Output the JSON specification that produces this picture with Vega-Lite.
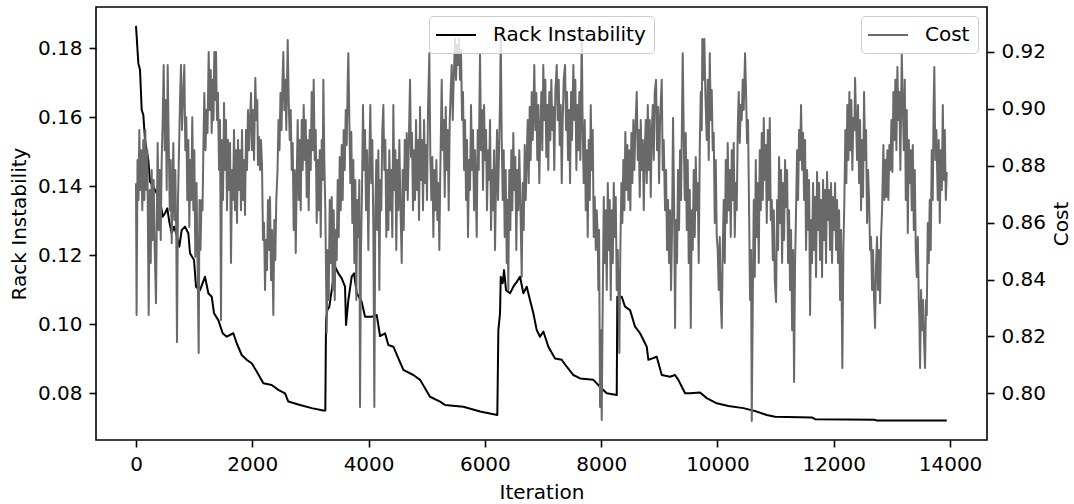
{
"$schema": "https://vega.github.io/schema/vega-lite/v6.json",
"width": 891, "height": 433,
"autosize": {"type": "none"},
"padding": {"left": 96, "top": 7, "right": 87, "bottom": 64},
"background": "white",
"config": {
  "font": "DejaVu Sans",
  "view": {"stroke": "#000000", "strokeWidth": 1.6},
  "axis": {"domain": false, "grid": false, "tickColor": "#000000", "tickSize": 7, "tickWidth": 1.6, "labelFontSize": 20, "labelColor": "#000000", "labelPadding": 7, "titleFontSize": 20, "titleFontWeight": "normal", "titleColor": "#000000", "titlePadding": 8, "labelFont": "DejaVu Sans", "titleFont": "DejaVu Sans"},
  "legend": {"orient": "none", "title": null, "symbolType": "M-2,0H2", "symbolSize": 400, "symbolStrokeWidth": 2, "symbolOffset": 8, "labelOffset": 26, "labelFontSize": 20, "labelFont": "DejaVu Sans", "labelColor": "#000000", "padding": 8, "cornerRadius": 4, "strokeColor": "#cccccc", "fillColor": "rgba(255,255,255,0.8)"}
},
"datasets": {
"ri": [
{"i":0,"v":0.1865},{"i":40,"v":0.1757},{"i":69,"v":0.1737},{"i":98,"v":0.1621},{"i":126,"v":0.1607},{"i":155,"v":0.1534},{"i":212,"v":0.1476},{"i":241,"v":0.1413},{"i":298,"v":0.1399},{"i":356,"v":0.138},{"i":413,"v":0.136},{"i":459,"v":0.1312},{"i":499,"v":0.1322},{"i":538,"v":0.1336},{"i":573,"v":0.1297},{"i":614,"v":0.1264},{"i":654,"v":0.1283},{"i":700,"v":0.1259},{"i":745,"v":0.1225},{"i":786,"v":0.1273},{"i":843,"v":0.1283},{"i":900,"v":0.1264},{"i":929,"v":0.1206},{"i":998,"v":0.1186},{"i":1032,"v":0.1109},{"i":1101,"v":0.1099},{"i":1187,"v":0.1138},{"i":1244,"v":0.109},{"i":1302,"v":0.108},{"i":1342,"v":0.1032},{"i":1416,"v":0.1012},{"i":1491,"v":0.0974},{"i":1560,"v":0.0964},{"i":1674,"v":0.0974},{"i":1732,"v":0.0945},{"i":1818,"v":0.0911},{"i":1904,"v":0.0897},{"i":1990,"v":0.0887},{"i":2076,"v":0.0863},{"i":2190,"v":0.0829},{"i":2334,"v":0.0824},{"i":2448,"v":0.081},{"i":2563,"v":0.08},{"i":2620,"v":0.0776},{"i":2821,"v":0.0766},{"i":3022,"v":0.0757},{"i":3222,"v":0.075},{"i":3256,"v":0.075},{"i":3268,"v":0.1012},{"i":3290,"v":0.1041},{"i":3325,"v":0.1051},{"i":3366,"v":0.1099},{"i":3423,"v":0.1167},{"i":3480,"v":0.1148},{"i":3538,"v":0.1133},{"i":3595,"v":0.1109},{"i":3612,"v":0.0998},{"i":3652,"v":0.107},{"i":3710,"v":0.1138},{"i":3750,"v":0.1148},{"i":3796,"v":0.109},{"i":3882,"v":0.1065},{"i":3939,"v":0.1022},{"i":4054,"v":0.1022},{"i":4140,"v":0.1027},{"i":4197,"v":0.0966},{"i":4283,"v":0.0974},{"i":4340,"v":0.094},{"i":4426,"v":0.0935},{"i":4598,"v":0.0868},{"i":4770,"v":0.0853},{"i":4885,"v":0.0839},{"i":5057,"v":0.079},{"i":5229,"v":0.0776},{"i":5315,"v":0.0766},{"i":5630,"v":0.0761},{"i":5917,"v":0.0747},{"i":6214,"v":0.0737},{"i":6232,"v":0.0983},{"i":6261,"v":0.1032},{"i":6273,"v":0.1138},{"i":6307,"v":0.1119},{"i":6330,"v":0.1157},{"i":6364,"v":0.1099},{"i":6433,"v":0.109},{"i":6490,"v":0.1109},{"i":6548,"v":0.1123},{"i":6605,"v":0.1138},{"i":6662,"v":0.109},{"i":6720,"v":0.1109},{"i":6777,"v":0.107},{"i":6834,"v":0.1032},{"i":6892,"v":0.0983},{"i":6949,"v":0.0964},{"i":7006,"v":0.0979},{"i":7092,"v":0.0935},{"i":7207,"v":0.0901},{"i":7322,"v":0.0897},{"i":7408,"v":0.0877},{"i":7522,"v":0.0853},{"i":7637,"v":0.0843},{"i":7866,"v":0.0839},{"i":8010,"v":0.0814},{"i":8096,"v":0.08},{"i":8268,"v":0.0795},{"i":8278,"v":0.108},{"i":8354,"v":0.108},{"i":8411,"v":0.1051},{"i":8497,"v":0.1041},{"i":8583,"v":0.0993},{"i":8669,"v":0.0974},{"i":8784,"v":0.0935},{"i":8812,"v":0.0897},{"i":8956,"v":0.0906},{"i":9042,"v":0.0853},{"i":9185,"v":0.0848},{"i":9271,"v":0.0853},{"i":9328,"v":0.0839},{"i":9443,"v":0.08},{"i":9529,"v":0.08},{"i":9701,"v":0.0802},{"i":9816,"v":0.0786},{"i":9988,"v":0.0771},{"i":10188,"v":0.0763},{"i":10446,"v":0.0757},{"i":10676,"v":0.0747},{"i":10848,"v":0.0737},{"i":10991,"v":0.0732},{"i":11622,"v":0.073},{"i":11679,"v":0.0725},{"i":12711,"v":0.0723},{"i":12740,"v":0.0721},{"i":13944,"v":0.0721}
],
"cost": [
{"i":0,"c":0.8739},{"i":10,"c":0.8275},{"i":26,"c":0.882},{"i":43,"c":0.868},{"i":57,"c":0.8926},{"i":74,"c":0.8715},{"i":91,"c":0.8855},{"i":108,"c":0.8644},{"i":126,"c":0.8891},{"i":143,"c":0.868},{"i":160,"c":0.8926},{"i":177,"c":0.8715},{"i":194,"c":0.8855},{"i":218,"c":0.8275},{"i":236,"c":0.8715},{"i":253,"c":0.8458},{"i":270,"c":0.8785},{"i":287,"c":0.8539},{"i":304,"c":0.875},{"i":322,"c":0.8504},{"i":344,"c":0.8317},{"i":361,"c":0.868},{"i":373,"c":0.888},{"i":390,"c":0.8574},{"i":408,"c":0.8785},{"i":425,"c":0.8539},{"i":442,"c":0.882},{"i":459,"c":0.8961},{"i":476,"c":0.9154},{"i":494,"c":0.8855},{"i":511,"c":0.9031},{"i":528,"c":0.8715},{"i":545,"c":0.9154},{"i":562,"c":0.8891},{"i":580,"c":0.8644},{"i":597,"c":0.882},{"i":614,"c":0.8528},{"i":631,"c":0.875},{"i":642,"c":0.888},{"i":659,"c":0.8609},{"i":676,"c":0.8785},{"i":693,"c":0.8539},{"i":705,"c":0.818},{"i":722,"c":0.868},{"i":740,"c":0.8855},{"i":757,"c":0.9031},{"i":774,"c":0.9154},{"i":791,"c":0.8926},{"i":808,"c":0.9031},{"i":831,"c":0.9154},{"i":848,"c":0.8855},{"i":865,"c":0.8971},{"i":882,"c":0.868},{"i":900,"c":0.8891},{"i":917,"c":0.8585},{"i":934,"c":0.882},{"i":951,"c":0.868},{"i":968,"c":0.8971},{"i":986,"c":0.8644},{"i":1003,"c":0.8855},{"i":1020,"c":0.8479},
{"i":1041,"c":0.8739},{"i":1058,"c":0.8469},{"i":1078,"c":0.8142},{"i":1092,"c":0.868},{"i":1109,"c":0.8504},{"i":1127,"c":0.868},{"i":1144,"c":0.8644},{"i":1161,"c":0.8891},{"i":1175,"c":0.9056},{"i":1195,"c":0.8855},{"i":1213,"c":0.8996},{"i":1230,"c":0.8915},{"i":1250,"c":0.92},{"i":1268,"c":0.8996},{"i":1285,"c":0.9137},{"i":1302,"c":0.8915},{"i":1319,"c":0.9102},{"i":1333,"c":0.8961},{"i":1347,"c":0.92},{"i":1362,"c":0.9031},{"i":1376,"c":0.92},{"i":1393,"c":0.8961},{"i":1410,"c":0.9056},{"i":1428,"c":0.8785},{"i":1445,"c":0.8961},{"i":1462,"c":0.8258},{"i":1479,"c":0.8891},{"i":1496,"c":0.868},{"i":1514,"c":0.9021},{"i":1531,"c":0.8785},{"i":1548,"c":0.8961},{"i":1565,"c":0.8644},{"i":1582,"c":0.8891},{"i":1600,"c":0.8715},{"i":1617,"c":0.888},{"i":1634,"c":0.8458},{"i":1651,"c":0.8785},{"i":1668,"c":0.868},{"i":1686,"c":0.8926},{"i":1703,"c":0.8644},{"i":1720,"c":0.8855},{"i":1737,"c":0.8599},{"i":1754,"c":0.8891},{"i":1772,"c":0.8715},{"i":1789,"c":0.8855},{"i":1806,"c":0.8644},{"i":1823,"c":0.8926},{"i":1840,"c":0.868},{"i":1858,"c":0.882},{"i":1875,"c":0.8627},{"i":1892,"c":0.8926},{"i":1909,"c":0.8785},{"i":1926,"c":0.8996},{"i":1944,"c":0.8855},{"i":1961,"c":0.8961},{"i":1978,"c":0.9056},{"i":1995,"c":0.8855},{"i":2012,"c":0.8996},{"i":2030,"c":0.882},{"i":2052,"c":0.9109},{"i":2069,"c":0.8961},{"i":2086,"c":0.9031},{"i":2098,"c":0.8803},{"i":2116,"c":0.8901},{"i":2133,"c":0.8785},{"i":2150,"c":0.8891},{"i":2167,"c":0.8803},{"i":2184,"c":0.8539},{"i":2202,"c":0.8599},{"i":2219,"c":0.8363},{"i":2236,"c":0.8539},{"i":2253,"c":0.8433},{"i":2270,"c":0.868},{"i":2288,"c":0.8504},{"i":2305,"c":0.869},{"i":2322,"c":0.8398},{"i":2339,"c":0.8574},{"i":2362,"c":0.8275},{"i":2379,"c":0.8609},{"i":2396,"c":0.8469},{"i":2413,"c":0.868},{"i":2434,"c":0.8785},{"i":2451,"c":0.8961},{"i":2468,"c":0.8855},{"i":2485,"c":0.9056},{"i":2503,"c":0.8926},{"i":2520,"c":0.9102},{"i":2534,"c":0.92},{"i":2551,"c":0.8996},{"i":2568,"c":0.9102},{"i":2585,"c":0.8926},{"i":2609,"c":0.9242},{"i":2626,"c":0.9031},{"i":2644,"c":0.8891},{"i":2661,"c":0.8996},{"i":2678,"c":0.8785},{"i":2695,"c":0.888},{"i":2712,"c":0.8574},{"i":2730,"c":0.8785},{"i":2747,"c":0.8493},
{"i":2764,"c":0.875},{"i":2781,"c":0.8961},{"i":2798,"c":0.868},{"i":2816,"c":0.8891},{"i":2833,"c":0.8644},{"i":2850,"c":0.8961},{"i":2867,"c":0.8785},{"i":2884,"c":0.9014},{"i":2902,"c":0.882},{"i":2919,"c":0.8961},{"i":2936,"c":0.869},{"i":2953,"c":0.8891},{"i":2970,"c":0.8644},{"i":2988,"c":0.8926},{"i":3005,"c":0.8785},{"i":3022,"c":0.9059},{"i":3039,"c":0.8855},{"i":3056,"c":0.9102},{"i":3074,"c":0.882},{"i":3091,"c":0.8926},{"i":3108,"c":0.8599},{"i":3125,"c":0.882},{"i":3142,"c":0.8644},{"i":3160,"c":0.8855},{"i":3177,"c":0.855},{"i":3194,"c":0.8891},{"i":3211,"c":0.875},{"i":3222,"c":0.9102},{"i":3239,"c":0.882},{"i":3256,"c":0.8644},{"i":3280,"c":0.8212},{"i":3297,"c":0.8504},{"i":3314,"c":0.8328},{"i":3332,"c":0.868},{"i":3349,"c":0.8458},{"i":3366,"c":0.869},{"i":3383,"c":0.8363},{"i":3400,"c":0.8644},{"i":3418,"c":0.8328},{"i":3435,"c":0.8574},{"i":3452,"c":0.8469},{"i":3469,"c":0.875},{"i":3486,"c":0.855},{"i":3504,"c":0.8831},{"i":3521,"c":0.8644},{"i":3538,"c":0.8873},{"i":3555,"c":0.868},{"i":3572,"c":0.8926},{"i":3590,"c":0.8785},{"i":3607,"c":0.8996},{"i":3624,"c":0.8873},{"i":3641,"c":0.9102},{"i":3652,"c":0.9196},{"i":3669,"c":0.8961},{"i":3686,"c":0.8739},{"i":3703,"c":0.8919},{"i":3720,"c":0.8599},{"i":3738,"c":0.882},{"i":3755,"c":0.8458},{"i":3772,"c":0.875},{"i":3789,"c":0.8328},{"i":3806,"c":0.868},{"i":3824,"c":0.855},{"i":3841,"c":0.875},{"i":3853,"c":0.7952},{"i":3870,"c":0.8504},{"i":3887,"c":0.8715},{"i":3904,"c":0.9014},{"i":3922,"c":0.8785},{"i":3939,"c":0.8926},{"i":3956,"c":0.8644},{"i":3973,"c":0.8855},{"i":3996,"c":0.8504},{"i":4013,"c":0.882},{"i":4030,"c":0.9014},{"i":4047,"c":0.8739},{"i":4064,"c":0.8891},{"i":4082,"c":0.8574},{"i":4099,"c":0.7952},{"i":4116,"c":0.8644},{"i":4133,"c":0.882},{"i":4150,"c":0.8574},{"i":4168,"c":0.8855},{"i":4185,"c":0.8363},{"i":4202,"c":0.875},{"i":4219,"c":0.8644},{"i":4236,"c":0.8926},{"i":4254,"c":0.9014},{"i":4271,"c":0.8785},{"i":4288,"c":0.8891},{"i":4305,"c":0.855},{"i":4322,"c":0.8785},
{"i":4340,"c":0.8574},{"i":4357,"c":0.8855},{"i":4374,"c":0.8644},{"i":4391,"c":0.8785},{"i":4408,"c":0.855},{"i":4426,"c":0.9014},{"i":4443,"c":0.8715},{"i":4460,"c":0.8855},{"i":4477,"c":0.8504},{"i":4494,"c":0.882},{"i":4512,"c":0.8644},{"i":4529,"c":0.8891},{"i":4546,"c":0.868},{"i":4570,"c":0.8458},{"i":4587,"c":0.8785},{"i":4604,"c":0.8574},{"i":4622,"c":0.8891},{"i":4639,"c":0.8715},{"i":4656,"c":0.8915},{"i":4673,"c":0.868},{"i":4690,"c":0.8855},{"i":4713,"c":0.9102},{"i":4730,"c":0.8831},{"i":4747,"c":0.8915},{"i":4764,"c":0.8644},{"i":4782,"c":0.8855},{"i":4799,"c":0.868},{"i":4816,"c":0.8961},{"i":4833,"c":0.8715},{"i":4850,"c":0.8891},{"i":4868,"c":0.8609},{"i":4885,"c":0.9007},{"i":4902,"c":0.875},{"i":4919,"c":0.8891},{"i":4936,"c":0.8644},{"i":4954,"c":0.8961},{"i":4971,"c":0.8739},{"i":4988,"c":0.8873},{"i":5005,"c":0.868},{"i":5022,"c":0.8996},{"i":5045,"c":0.9196},{"i":5062,"c":0.8831},{"i":5080,"c":0.868},{"i":5097,"c":0.8831},{"i":5114,"c":0.855},{"i":5131,"c":0.8785},{"i":5148,"c":0.8644},{"i":5166,"c":0.882},{"i":5183,"c":0.8609},{"i":5200,"c":0.8739},{"i":5217,"c":0.8504},{"i":5234,"c":0.8785},{"i":5258,"c":0.9102},{"i":5275,"c":0.8855},{"i":5292,"c":0.8961},{"i":5310,"c":0.869},{"i":5327,"c":0.9007},{"i":5344,"c":0.8785},{"i":5361,"c":0.8926},{"i":5378,"c":0.8644},{"i":5396,"c":0.8961},{"i":5413,"c":0.9066},{"i":5430,"c":0.9154},{"i":5447,"c":0.8961},{"i":5464,"c":0.9102},{"i":5487,"c":0.9246},{"i":5504,"c":0.9102},{"i":5521,"c":0.9225},{"i":5538,"c":0.9154},{"i":5556,"c":0.9246},{"i":5573,"c":0.9102},{"i":5590,"c":0.9207},{"i":5607,"c":0.8961},{"i":5624,"c":0.9059},{"i":5642,"c":0.8785},{"i":5659,"c":0.8961},{"i":5676,"c":0.868},{"i":5693,"c":0.8891},{"i":5710,"c":0.855},{"i":5728,"c":0.882},{"i":5745,"c":0.8715},{"i":5762,"c":0.9014},{"i":5779,"c":0.8785},{"i":5796,"c":0.8926},{"i":5814,"c":0.8644},{"i":5831,"c":0.8855},{"i":5860,"c":0.855},{"i":5877,"c":0.8926},{"i":5894,"c":0.8785},{"i":5917,"c":0.9196},{"i":5934,"c":0.8855},{"i":5951,"c":0.8996},{"i":5968,"c":0.8715},{"i":5986,"c":0.9014},{"i":6003,"c":0.882},{"i":6020,"c":0.8926},{"i":6037,"c":0.8644},{"i":6054,"c":0.8855},{"i":6072,"c":0.875},{"i":6089,"c":0.8961},{"i":6106,"c":0.8574},{"i":6123,"c":0.8785},{"i":6140,"c":0.8644},{"i":6158,"c":0.8855},{"i":6175,"c":0.8504},{"i":6192,"c":0.875},{"i":6209,"c":0.8926},{"i":6226,"c":0.868},{"i":6244,"c":0.8855},{"i":6261,"c":0.9031},{"i":6273,"c":0.9267},{"i":6290,"c":0.8891},{"i":6307,"c":0.868},{"i":6324,"c":0.8855},{"i":6341,"c":0.855},{"i":6358,"c":0.8785},{"i":6376,"c":0.8458},{"i":6390,"c":0.868},{"i":6403,"c":0.8363},{"i":6420,"c":0.8785},{"i":6438,"c":0.8574},{"i":6455,"c":0.8855},{"i":6472,"c":0.8644},{"i":6489,"c":0.8915},{"i":6506,"c":0.8715},{"i":6524,"c":0.8831},{"i":6541,"c":0.8504},{"i":6558,"c":0.8785},{"i":6575,"c":0.8644},{"i":6592,"c":0.8855},{"i":6610,"c":0.868},{"i":6634,"c":0.8409},{"i":6651,"c":0.8739},{"i":6668,"c":0.8574},{"i":6685,"c":0.8873},{"i":6703,"c":0.868},{"i":6720,"c":0.8831},{"i":6737,"c":0.8961},{"i":6754,"c":0.8739},{"i":6771,"c":0.9007},{"i":6788,"c":0.882},{"i":6806,"c":0.9059},{"i":6823,"c":0.8891},{"i":6837,"c":0.8996},{"i":6850,"c":0.9154},{"i":6868,"c":0.8926},{"i":6885,"c":0.9056},{"i":6902,"c":0.882},{"i":6919,"c":0.9014},{"i":6936,"c":0.8739},{"i":6954,"c":0.8926},{"i":6971,"c":0.9059},{"i":6988,"c":0.8855},{"i":7005,"c":0.9154},{"i":7022,"c":0.8961},{"i":7040,"c":0.9102},{"i":7057,"c":0.8831},{"i":7074,"c":0.9014},{"i":7091,"c":0.8785},{"i":7108,"c":0.9059},{"i":7126,"c":0.8891},{"i":7143,"c":0.9102},{"i":7160,"c":0.8926},{"i":7177,"c":0.9007},{"i":7194,"c":0.8785},{"i":7212,"c":0.9059},{"i":7236,"c":0.9154},{"i":7253,"c":0.8961},{"i":7270,"c":0.9102},{"i":7288,"c":0.8873},{"i":7305,"c":0.9014},{"i":7322,"c":0.8739},{"i":7339,"c":0.8961},{"i":7356,"c":0.9102},{"i":7379,"c":0.9154},{"i":7396,"c":0.8926},{"i":7413,"c":0.9059},{"i":7430,"c":0.882},{"i":7448,"c":0.8996},{"i":7465,"c":0.8739},{"i":7482,"c":0.9059},{"i":7499,"c":0.8891},{"i":7522,"c":0.9154},{"i":7539,"c":0.8961},{"i":7556,"c":0.9102},{"i":7574,"c":0.8785},{"i":7591,"c":0.9014},{"i":7608,"c":0.8855},{"i":7625,"c":0.9059},{"i":7642,"c":0.882},{"i":7666,"c":0.9267},{"i":7683,"c":0.8915},{"i":7700,"c":0.8739},{"i":7718,"c":0.8961},{"i":7735,"c":0.8644},{"i":7752,"c":0.8855},{"i":7769,"c":0.855},{"i":7786,"c":0.8891},{"i":7804,"c":0.868},{"i":7821,"c":0.9014},{"i":7838,"c":0.8785},{"i":7855,"c":0.8926},{"i":7872,"c":0.855},{"i":7890,"c":0.869},{"i":7907,"c":0.8504},{"i":7924,"c":0.8644},{"i":7941,"c":0.855},{"i":7952,"c":0.8363},{"i":7964,"c":0.8574},{"i":7981,"c":0.7952},{"i":7995,"c":0.8222},{"i":8010,"c":0.7906},{"i":8027,"c":0.8328},{"i":8045,"c":0.869},{"i":8062,"c":0.8458},{"i":8079,"c":0.8644},{"i":8096,"c":0.8363},{"i":8114,"c":0.8739},{"i":8131,"c":0.8504},{"i":8148,"c":0.868},{"i":8165,"c":0.8328},{"i":8182,"c":0.8644},{"i":8200,"c":0.8458},{"i":8217,"c":0.8739},{"i":8234,"c":0.855},{"i":8251,"c":0.869},{"i":8268,"c":0.8363},{"i":8286,"c":0.8504},{"i":8299,"c":0.8328},{"i":8313,"c":0.8142},{"i":8330,"c":0.8504},{"i":8348,"c":0.8739},{"i":8365,"c":0.8599},{"i":8382,"c":0.882},{"i":8399,"c":0.8644},{"i":8416,"c":0.8919},{"i":8434,"c":0.8715},{"i":8451,"c":0.8873},{"i":8468,"c":0.868},{"i":8485,"c":0.8855},{"i":8502,"c":0.8644},{"i":8520,"c":0.8915},{"i":8537,"c":0.8739},{"i":8554,"c":0.8961},{"i":8571,"c":0.8785},{"i":8588,"c":0.8926},{"i":8612,"c":0.9059},{"i":8630,"c":0.882},{"i":8647,"c":0.8926},{"i":8664,"c":0.869},{"i":8681,"c":0.8961},{"i":8698,"c":0.8785},{"i":8716,"c":0.8891},{"i":8733,"c":0.8644},{"i":8750,"c":0.8855},{"i":8767,"c":0.8961},{"i":8784,"c":0.8739},{"i":8802,"c":0.9014},{"i":8819,"c":0.8785},{"i":8836,"c":0.8961},{"i":8853,"c":0.869},{"i":8870,"c":0.8915},{"i":8888,"c":0.9014},{"i":8905,"c":0.882},{"i":8922,"c":0.9059},{"i":8944,"c":0.9102},{"i":8961,"c":0.8855},{"i":8978,"c":0.9007},{"i":8996,"c":0.8739},{"i":9013,"c":0.8961},{"i":9042,"c":0.9102},{"i":9059,"c":0.8785},{"i":9076,"c":0.8891},{"i":9099,"c":0.8644},{"i":9116,"c":0.8785},{"i":9133,"c":0.8504},{"i":9150,"c":0.868},{"i":9168,"c":0.8458},{"i":9185,"c":0.8644},{"i":9202,"c":0.8363},{"i":9219,"c":0.8574},{"i":9236,"c":0.8968},{"i":9254,"c":0.868},{"i":9271,"c":0.823},{"i":9288,"c":0.8609},{"i":9305,"c":0.8458},
{"i":9322,"c":0.8785},{"i":9340,"c":0.8574},{"i":9357,"c":0.8855},{"i":9374,"c":0.868},{"i":9403,"c":0.9196},{"i":9420,"c":0.8915},{"i":9438,"c":0.868},{"i":9455,"c":0.8915},{"i":9472,"c":0.8574},{"i":9489,"c":0.882},{"i":9506,"c":0.8458},{"i":9524,"c":0.8715},{"i":9541,"c":0.823},{"i":9558,"c":0.8644},{"i":9575,"c":0.8504},{"i":9592,"c":0.8785},{"i":9610,"c":0.855},{"i":9627,"c":0.8831},{"i":9644,"c":0.8644},{"i":9661,"c":0.8739},{"i":9678,"c":0.8458},{"i":9696,"c":0.8855},{"i":9713,"c":0.9059},{"i":9730,"c":0.8926},{"i":9740,"c":0.9246},{"i":9758,"c":0.9102},{"i":9775,"c":0.9246},{"i":9792,"c":0.9056},{"i":9816,"c":0.8891},{"i":9833,"c":0.9102},{"i":9850,"c":0.882},{"i":9868,"c":0.9196},{"i":9885,"c":0.8961},{"i":9902,"c":0.9066},{"i":9919,"c":0.8855},{"i":9936,"c":0.8915},{"i":9954,"c":0.8599},{"i":9971,"c":0.882},{"i":9988,"c":0.855},{"i":10005,"c":0.8504},{"i":10022,"c":0.8363},{"i":10040,"c":0.855},{"i":10057,"c":0.8328},{"i":10074,"c":0.823},{"i":10091,"c":0.8504},{"i":10108,"c":0.868},{"i":10126,"c":0.8458},{"i":10143,"c":0.882},{"i":10160,"c":0.8599},{"i":10177,"c":0.888},{"i":10194,"c":0.8644},{"i":10212,"c":0.8785},{"i":10229,"c":0.855},{"i":10246,"c":0.8855},{"i":10263,"c":0.868},{"i":10280,"c":0.888},{"i":10298,"c":0.855},{"i":10315,"c":0.8739},{"i":10332,"c":0.8644},{"i":10349,"c":0.8926},{"i":10366,"c":0.9059},{"i":10384,"c":0.888},{"i":10401,"c":0.9014},{"i":10418,"c":0.8961},{"i":10435,"c":0.9102},{"i":10452,"c":0.8996},{"i":10475,"c":0.9196},{"i":10492,"c":0.9059},{"i":10509,"c":0.888},{"i":10526,"c":0.8961},{"i":10544,"c":0.8644},{"i":10561,"c":0.8328},{"i":10578,"c":0.8504},{"i":10590,"c":0.7903},{"i":10608,"c":0.8328},{"i":10625,"c":0.868},{"i":10642,"c":0.8409},{"i":10659,"c":0.882},{"i":10676,"c":0.855},{"i":10694,"c":0.8739},{"i":10711,"c":0.8458},{"i":10728,"c":0.8855},{"i":10745,"c":0.8644},{"i":10762,"c":0.8915},{"i":10780,"c":0.868},{"i":10797,"c":0.8968},{"i":10814,"c":0.875},{"i":10831,"c":0.8873},{"i":10848,"c":0.8599},{"i":10866,"c":0.8926},{"i":10883,"c":0.868},{"i":10900,"c":0.8968},{"i":10917,"c":0.8609},{"i":10934,"c":0.868},{"i":10952,"c":0.8469},{"i":10969,"c":0.8644},{"i":10986,"c":0.8398},{"i":11008,"c":0.8321},{"i":11026,"c":0.868},{"i":11043,"c":0.8504},{"i":11060,"c":0.8831},{"i":11077,"c":0.8599},{"i":11094,"c":0.8785},{"i":11112,"c":0.8458},{"i":11129,"c":0.8739},{"i":11146,"c":0.8539},{"i":11163,"c":0.882},{"i":11180,"c":0.8655},{"i":11198,"c":0.8785},{"i":11215,"c":0.8458},{"i":11232,"c":0.8644},{"i":11249,"c":0.8363},{"i":11266,"c":0.8574},{"i":11284,"c":0.8222},{"i":11301,"c":0.8504},{"i":11318,"c":0.804},{"i":11335,"c":0.8458},{"i":11352,"c":0.8644},{"i":11370,"c":0.8855},{"i":11387,"c":0.868},{"i":11404,"c":0.8926},{"i":11421,"c":0.882},{"i":11438,"c":0.9014},{"i":11456,"c":0.8785},{"i":11473,"c":0.8915},{"i":11490,"c":0.868},{"i":11507,"c":0.8891},{"i":11524,"c":0.8504},{"i":11542,"c":0.8785},{"i":11559,"c":0.8574},{"i":11576,"c":0.875},{"i":11593,"c":0.8275},{"i":11610,"c":0.8609},{"i":11627,"c":0.8458},{"i":11644,"c":0.8739},{"i":11662,"c":0.8504},{"i":11679,"c":0.869},{"i":11696,"c":0.8409},{"i":11713,"c":0.8778},{"i":11730,"c":0.8574},{"i":11748,"c":0.8739},{"i":11765,"c":0.8469},{"i":11782,"c":0.868},{"i":11799,"c":0.8409},{"i":11816,"c":0.875},{"i":11834,"c":0.8539},{"i":11851,"c":0.8715},{"i":11868,"c":0.8458},{"i":11885,"c":0.8778},{"i":11902,"c":0.8609},{"i":11920,"c":0.8715},{"i":11937,"c":0.8504},{"i":11954,"c":0.8739},{"i":11971,"c":0.8458},{"i":11988,"c":0.869},{"i":12006,"c":0.8574},{"i":12023,"c":0.8739},{"i":12040,"c":0.8504},{"i":12057,"c":0.868},{"i":12074,"c":0.8458},{"i":12092,"c":0.8644},{"i":12109,"c":0.8328},{"i":12126,"c":0.8574},{"i":12148,"c":0.8089},{"i":12166,"c":0.8504},{"i":12183,"c":0.868},{"i":12200,"c":0.8926},{"i":12217,"c":0.8739},{"i":12234,"c":0.9014},{"i":12252,"c":0.882},{"i":12269,"c":0.9059},{"i":12286,"c":0.8855},{"i":12303,"c":0.9031},{"i":12320,"c":0.8785},{"i":12338,"c":0.8968},{"i":12355,"c":0.8926},{"i":12367,"c":0.9109},{"i":12384,"c":0.8961},{"i":12401,"c":0.882},{"i":12418,"c":0.9014},{"i":12436,"c":0.8739},{"i":12453,"c":0.8961},{"i":12470,"c":0.8644},{"i":12487,"c":0.8891},{"i":12504,"c":0.869},{"i":12522,"c":0.9059},{"i":12539,"c":0.882},{"i":12556,"c":0.8926},{"i":12573,"c":0.8599},{"i":12590,"c":0.8785},{"i":12608,"c":0.868},{"i":12625,"c":0.8504},{"i":12642,"c":0.855},{"i":12659,"c":0.8363},{"i":12676,"c":0.8504},{"i":12694,"c":0.8328},{"i":12711,"c":0.823},{"i":12728,"c":0.8458},{"i":12745,"c":0.855},{"i":12762,"c":0.8363},{"i":12780,"c":0.8504},{"i":12797,"c":0.8317},{"i":12814,"c":0.855},{"i":12831,"c":0.8644},{"i":12854,"c":0.8873},{"i":12871,"c":0.868},{"i":12888,"c":0.882},{"i":12906,"c":0.869},{"i":12923,"c":0.8855},{"i":12940,"c":0.868},{"i":12957,"c":0.8873},{"i":12974,"c":0.8785},{"i":12992,"c":0.8961},{"i":13009,"c":0.8778},{"i":13026,"c":0.9059},{"i":13043,"c":0.8891},{"i":13060,"c":0.9102},{"i":13078,"c":0.8855},{"i":13095,"c":0.9147},{"i":13112,"c":0.8961},{"i":13129,"c":0.9059},{"i":13146,"c":0.8785},{"i":13170,"c":0.9196},{"i":13188,"c":0.9014},{"i":13205,"c":0.8855},{"i":13222,"c":0.9102},{"i":13239,"c":0.868},{"i":13256,"c":0.8996},{"i":13274,"c":0.8564},{"i":13291,"c":0.8891},{"i":13308,"c":0.8739},{"i":13325,"c":0.8855},{"i":13342,"c":0.8644},{"i":13360,"c":0.8873},{"i":13377,"c":0.8574},{"i":13394,"c":0.8785},{"i":13411,"c":0.8504},{"i":13428,"c":0.8409},{"i":13446,"c":0.855},{"i":13463,"c":0.8328},{"i":13473,"c":0.8258},{"i":13485,"c":0.8089},{"i":13502,"c":0.8363},{"i":13518,"c":0.8222},{"i":13536,"c":0.8328},{"i":13553,"c":0.8187},{"i":13570,"c":0.8089},{"i":13588,"c":0.8328},{"i":13600,"c":0.8275},{"i":13617,"c":0.8599},{"i":13634,"c":0.8458},{"i":13651,"c":0.868},{"i":13668,"c":0.8504},{"i":13686,"c":0.8855},{"i":13703,"c":0.868},{"i":13717,"c":0.8996},{"i":13730,"c":0.9147},{"i":13748,"c":0.882},{"i":13765,"c":0.8926},{"i":13789,"c":0.868},{"i":13806,"c":0.8891},{"i":13824,"c":0.8599},{"i":13841,"c":0.8855},{"i":13858,"c":0.8715},{"i":13876,"c":0.9014},{"i":13893,"c":0.875},{"i":13910,"c":0.8926},{"i":13928,"c":0.868},{"i":13944,"c":0.8778}
]
},
"layer": [
  {
    "data": {"name": "ri"},
    "mark": {"type": "line", "color": "#000000", "strokeWidth": 2, "strokeJoin": "round"},
    "encoding": {
      "x": {"field": "i", "type": "quantitative", "title": "Iteration", "scale": {"domain": [-688, 14636], "nice": false, "zero": false}, "axis": {"values": [0, 2000, 4000, 6000, 8000, 10000, 12000, 14000], "format": "d"}},
      "y": {"field": "v", "type": "quantitative", "title": "Rack Instability", "scale": {"domain": [0.06646, 0.19197], "nice": false, "zero": false}, "axis": {"values": [0.08, 0.10, 0.12, 0.14, 0.16, 0.18], "format": ".2f"}},
      "color": {"datum": "Rack Instability", "scale": {"range": ["#000000"]}, "legend": {"legendX": 333, "legendY": 9}}
    }
  },
  {
    "data": {"name": "cost"},
    "mark": {"type": "line", "strokeWidth": 2, "strokeJoin": "round"},
    "encoding": {
      "x": {"field": "i", "type": "quantitative"},
      "y": {"field": "c", "type": "quantitative", "title": "Cost", "scale": {"domain": [0.78359, 0.93582], "nice": false, "zero": false}, "axis": {"orient": "right", "values": [0.80, 0.82, 0.84, 0.86, 0.88, 0.90, 0.92], "format": ".2f", "titleAngle": 270, "titleBaseline": "top", "titlePadding": 6}},
      "color": {"datum": "Cost", "scale": {"range": ["#696969"]}, "legend": {"legendX": 765, "legendY": 9}}
    }
  }
],
"resolve": {"scale": {"y": "independent", "color": "independent"}}
}
